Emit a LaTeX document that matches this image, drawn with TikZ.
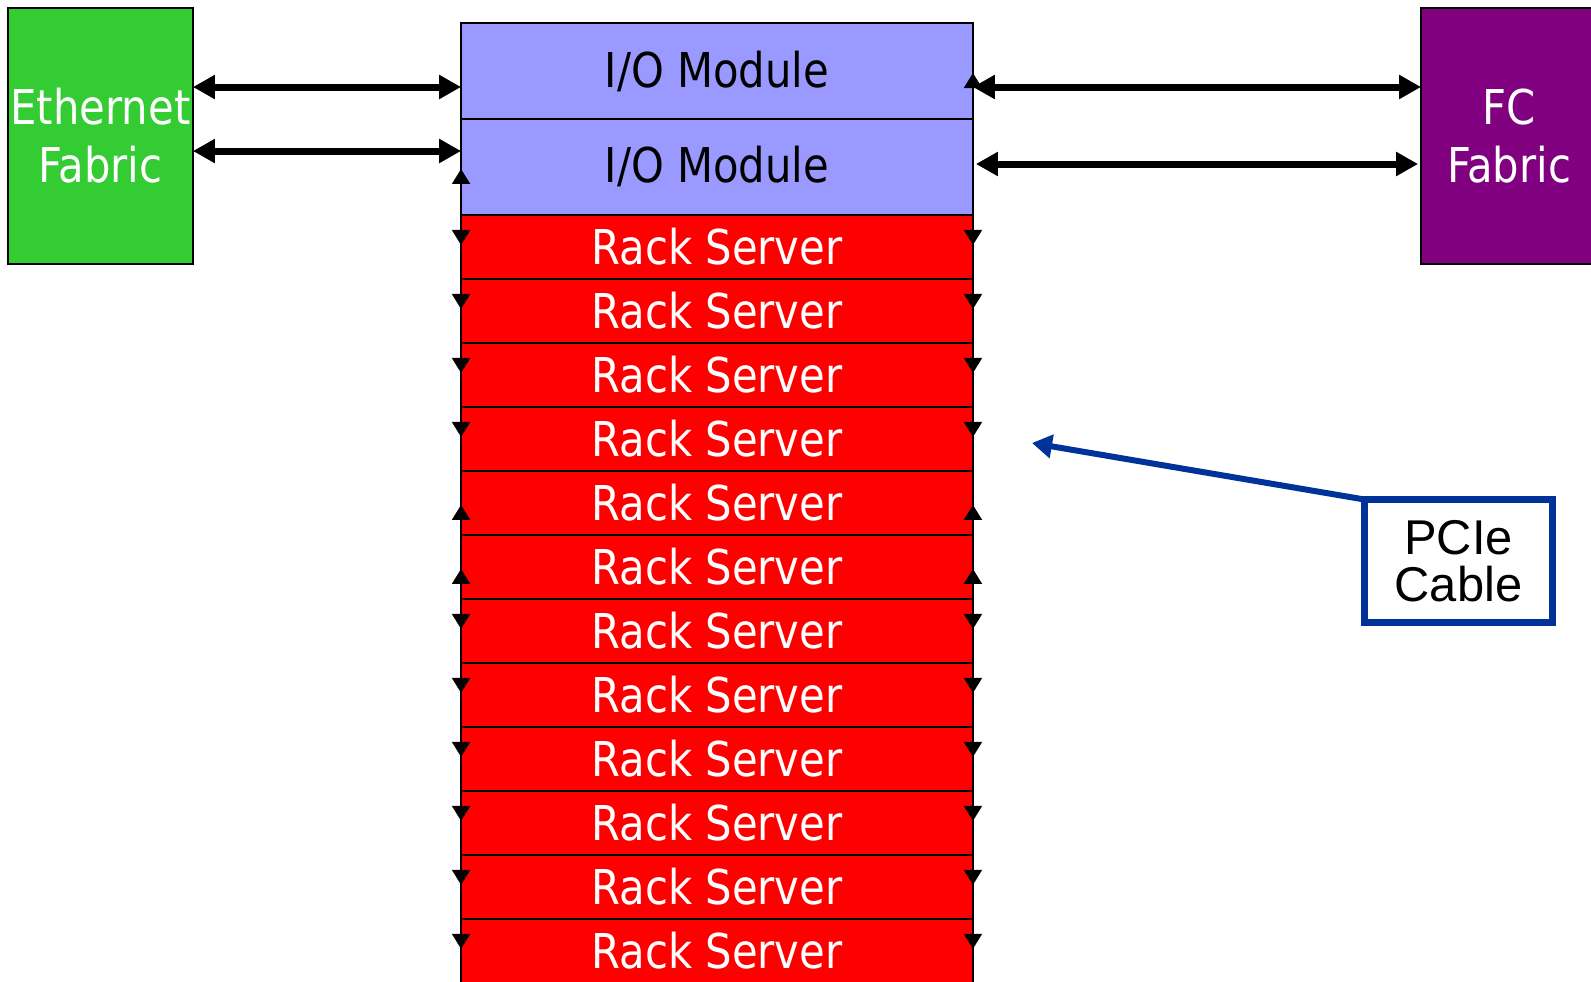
\documentclass[tikz,border=0pt]{standalone}
\usepackage{fontspec}
\setmainfont{DejaVu Sans}[FakeStretch=0.87]
\newfontfamily\arialfont{Liberation Sans}
\usetikzlibrary{positioning,arrows.meta}
\definecolor{ethgreen}{HTML}{33CC33}
\definecolor{iomauve}{HTML}{9999FF}
\definecolor{fcpurple}{HTML}{800080}
\definecolor{cableblue}{HTML}{003399}
\begin{document}
\begin{tikzpicture}[x=0.02cm,y=-0.02cm,
  every node/.style={outer sep=0pt,inner sep=0pt,align=center,font=\fontsize{27.3}{33}\selectfont},
  slot/.style={draw,line width=0.04cm,minimum width=10.24cm},
  iomod/.style={slot,fill=iomauve,minimum height=1.92cm},
  server/.style={slot,fill=red,text=white,minimum height=1.28cm},
  fabric/.style={draw,line width=0.03cm,text=white,minimum width=#1,minimum height=5.12cm},
  bus/.style={{Triangle[width=0.46cm,length=0.44cm]}-{Triangle[width=0.46cm,length=0.44cm]},line width=0.14cm},
  tick/.style={-{Triangle[width=0.36cm,length=0.3cm]},line width=0.04cm}]
\useasboundingbox (0,0) rectangle (1591,981);

\node[fabric=3.7cm,fill=ethgreen] (eth) at (100.5,136) {Ethernet\\Fabric};
\node[fabric=3.52cm,fill=fcpurple] (fc) at (1509,136) {FC\\Fabric};

\node[iomod] (io1) at (717,71) {I/O Module};
\node[iomod,below=0pt of io1] (io2) {I/O Module};
\node[server,below=0pt of io2] (rs1) {Rack Server};
\foreach \i [count=\j from 2] in {1,...,11}
  \node[server,below=0pt of rs\i] (rs\j) {Rack Server};

% cable ticks along both sides of the stack
\draw[tick] (io2.north west) ++(0,64) -- ++(0,-14);
\draw[tick] (io1.north east) ++(0,64) -- ++(0,-14);
\foreach \i in {1,2,3,4,7,8,9,10,11,12} {
  \draw[tick] (rs\i.north west) ++(0,16) -- ++(0,14);
  \draw[tick] (rs\i.north east) ++(0,16) -- ++(0,14);
}
\foreach \i in {5,6} {
  \draw[tick] (rs\i.north west) ++(0,48) -- ++(0,-14);
  \draw[tick] (rs\i.north east) ++(0,48) -- ++(0,-14);
}

\draw[bus] (eth.east |- 0,87) -- (io1.west |- 0,87);
\draw[bus] (eth.east |- 0,151) -- (io2.west |- 0,151);
\draw[bus] (io1.east |- 0,87) -- (fc.west |- 0,87);
\draw[bus,shorten <=0.06cm,shorten >=0.06cm] (io2.east |- 0,164) -- (fc.west |- 0,164);

\node[draw=cableblue,line width=0.14cm,minimum width=3.76cm,minimum height=2.46cm,
  font=\arialfont\fontsize{27.8}{27}\selectfont] (pcie) at (1458.5,561) {PCIe\\Cable};
\coordinate (cabletip) at (1032,443);
\draw[cableblue,line width=0.12cm,-{Triangle[width=0.46cm,length=0.4cm]}] (pcie.north west) -- (cabletip);
\end{tikzpicture}
\end{document}
